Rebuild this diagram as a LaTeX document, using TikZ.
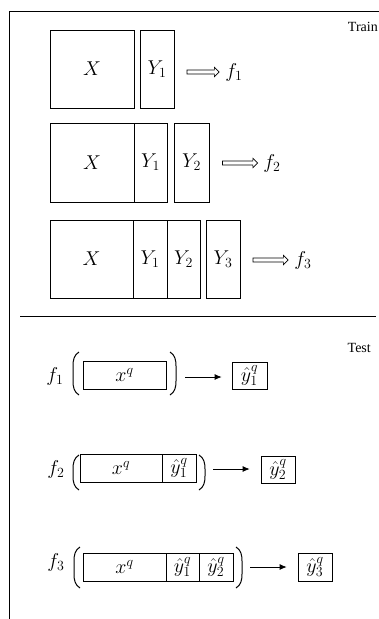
\RequirePackage{fix-cm}
\documentclass[tikz,border=0pt]{standalone}
\usepackage{fontspec}
\setmainfont{Liberation Serif}
\usetikzlibrary{arrows.meta,shapes.arrows}
\newcommand\myLP[3]{\draw[paren] (#1+6,#2) .. controls (#1+1,#2+3) and (#1,#2+8) .. (#1,#2+14) -- (#1,#3-14) .. controls (#1,#3-8) and (#1+1,#3-3) .. (#1+6,#3);}
\newcommand\myRP[3]{\draw[paren] (#1-6,#2) .. controls (#1-1,#2+3) and (#1,#2+8) .. (#1,#2+14) -- (#1,#3-14) .. controls (#1,#3-8) and (#1-1,#3-3) .. (#1-6,#3);}
\begin{document}
\begin{tikzpicture}[x=1pt,y=-1pt,
  box/.style={draw, line width=0.7pt, inner sep=0pt, font=\fontsize{20}{22}\selectfont},
  lab/.style={inner sep=1pt, font=\fontsize{20}{22}\selectfont},
  word/.style={inner sep=0pt, anchor=east, font=\fontsize{14}{16}\selectfont},
  hollow/.style={single arrow, draw, line width=0.7pt, fill=white, inner sep=1.7pt,
    single arrow head extend=2.6pt, single arrow head indent=0pt, minimum width=0pt, shape border rotate=0},
  arr/.style={line width=0.8pt, -{Latex[length=7pt,width=6pt]}},
  paren/.style={line width=1pt}]
\useasboundingbox (0,0) rectangle (379,619);
% frame
\coordinate (fb) at (9,619);
\coordinate (ftl) at (9,11);
\coordinate (ftr) at (379,11);
\draw[line width=0.8pt] (fb) -- (ftl) -- (ftr);
\coordinate (hl) at (20,316);
\coordinate (hr) at (376,316);
\draw[line width=0.8pt] (hl) -- (hr);
\node[word] (train) at (378,27) {Train};
\node[word] (test) at (371,348) {Test};
% ---------- Train ----------
\node[box, minimum width=84pt, minimum height=78pt] (X1) at (92,69) {$X$};
\node[box, minimum width=34pt, minimum height=78pt] (Y11) at (157,69) {$Y_1$};
\node[lab] (f1) at (234,72) {$f_1$};
\node[hollow, minimum height=32pt] (h1) at (202,72) {};

\node[box, minimum width=84pt, minimum height=79pt] (X2) at (92,162.5) {$X$};
\node[box, minimum width=33pt, minimum height=79pt] (Y21) at (150.5,162.5) {$Y_1$};
\node[box, minimum width=35pt, minimum height=79pt] (Y22) at (191.5,162.5) {$Y_2$};
\node[lab] (f2) at (272,163) {$f_2$};
\node[hollow, minimum height=35pt] (h2) at (239,163) {};

\node[box, minimum width=83pt, minimum height=78pt] (X3) at (91.5,259) {$X$};
\node[box, minimum width=34pt, minimum height=78pt] (Y31) at (150,259) {$Y_1$};
\node[box, minimum width=33pt, minimum height=78pt] (Y32) at (183.5,259) {$Y_2$};
\node[box, minimum width=34pt, minimum height=78pt] (Y33) at (223,259) {$Y_3$};
\node[lab] (f3) at (303,260) {$f_3$};
\node[hollow, minimum height=35pt] (h3) at (269.5,260) {};
% ---------- Test ----------
\node[lab] (g1) at (55,376) {$f_1$};
\myLP{73}{352}{395}
\node[box, minimum width=83pt, minimum height=28pt] (T1x) at (124.5,375) {$x^q$};
\myRP{176}{352}{395}
\coordinate (a1) at (185,377);
\node[box, minimum width=35pt, minimum height=27pt] (T1o) at (249.5,375.5) {$\hat{y}_1^q$};
\draw[arr, shorten >=10pt] (a1) -- (a1 -| T1o.west);

\node[lab] (g2) at (56,469) {$f_2$};
\myLP{73}{455}{490}
\node[box, minimum width=82pt, minimum height=28pt] (T2x) at (121,468) {$x^q$};
\node[box, minimum width=34pt, minimum height=28pt] (T2a) at (179,468) {$\hat{y}_1^q$};
\myRP{205}{455}{490}
\coordinate (a2) at (213,469);
\node[box, minimum width=34pt, minimum height=27pt] (T2o) at (278,469.5) {$\hat{y}_2^q$};
\draw[arr, shorten >=11pt] (a2) -- (a2 -| T2o.west);

\node[lab] (g3) at (56,562) {$f_3$};
\myLP{74}{547}{588}
\node[box, minimum width=83pt, minimum height=28pt] (T3x) at (124.5,567) {$x^q$};
\node[box, minimum width=33pt, minimum height=28pt] (T3a) at (182.5,567) {$\hat{y}_1^q$};
\node[box, minimum width=34pt, minimum height=28pt] (T3b) at (216,567) {$\hat{y}_2^q$};
\myRP{242}{547}{588}
\coordinate (a3) at (250,567);
\node[box, minimum width=34pt, minimum height=28pt] (T3o) at (315,567) {$\hat{y}_3^q$};
\draw[arr, shorten >=11pt] (a3) -- (a3 -| T3o.west);
\end{tikzpicture}
\end{document}
